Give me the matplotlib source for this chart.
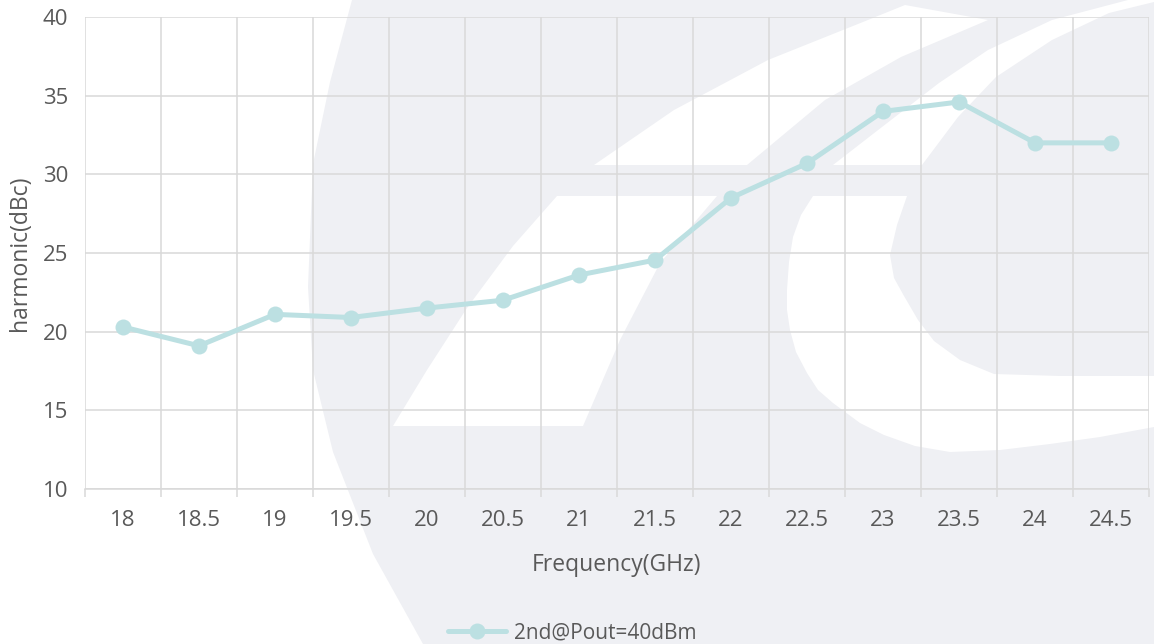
import matplotlib.pyplot as plt
from matplotlib.patches import Polygon

plt.rcParams['font.family'] = ['Open Sans', 'DejaVu Sans']

# data
freq_labels = ['18', '18.5', '19', '19.5', '20', '20.5', '21', '21.5',
               '22', '22.5', '23', '23.5', '24', '24.5']
harmonic = [20.3, 19.1, 21.1, 20.9, 21.5, 22.0, 23.6, 24.55,
            28.5, 30.7, 34.0, 34.6, 32.0, 32.0]
series_name = '2nd@Pout=40dBm'

line_col = '#bce0e2'
grid_col = '#d9d9d9'
text_col = '#595959'
wm_col = '#eff0f4'

fig = plt.figure(figsize=(11.54, 6.44), dpi=100)

# watermark logo in the background (figure pixel coords)
bg = fig.add_axes([0, 0, 1, 1], zorder=0)
bg.set_xlim(0, 1154)
bg.set_ylim(644, 0)
bg.axis('off')

gray_shape = [(352, 0), (330, 82), (313, 164), (308, 287), (313, 370), (333, 452),
              (373, 554), (423, 644), (1154, 644), (1154, 0)]
white_band1 = [(594, 165), (674, 110), (768, 60), (863, 22), (905, 5), (988, 20),
               (901, 57), (825, 100), (747, 165)]
white_band2 = [(833, 165), (882, 127), (939, 83), (988, 50), (1052, 20), (1128, 0),
               (1154, 0), (1154, 2), (1109, 13), (1052, 40), (996, 77), (958, 117), (922, 165)]
white_para = [(557, 196), (717, 196), (660, 263), (620, 340), (583, 426),
              (393, 426), (427, 370), (467, 308), (513, 246)]
white_c = [(813, 196), (907, 196), (897, 225), (890, 255), (894, 278), (904, 296),
           (918, 320), (934, 341), (960, 360), (994, 374), (1060, 376),
           (1154, 376), (1154, 427), (1100, 437), (1050, 444), (1000, 450), (950, 452),
           (915, 446), (884, 435), (860, 423), (833, 403), (818, 390), (807, 373),
           (796, 352), (790, 330), (787, 310), (787, 290), (789, 262), (793, 237), (801, 215)]

bg.add_patch(Polygon(gray_shape, closed=True, facecolor=wm_col, edgecolor='none'))
for shp in (white_band1, white_band2, white_para, white_c):
    bg.add_patch(Polygon(shp, closed=True, facecolor='white', edgecolor='none'))

ax = fig.add_axes([85 / 1154, 155 / 644, 1064 / 1154, 472 / 644], zorder=1)
ax.patch.set_alpha(0)

x = list(range(len(freq_labels)))
ax.plot(x, harmonic, color=line_col, lw=3.6, marker='o', ms=11.5,
        markeredgewidth=0, label=series_name, solid_capstyle='round', zorder=3)

ax.set_xlim(-0.5, len(freq_labels) - 0.5)
ax.set_ylim(10, 40)
ax.set_yticks(range(10, 41, 5))
ax.set_xticks(x)
ax.set_xticklabels(freq_labels)
ax.set_xticks([i - 0.5 for i in range(len(freq_labels) + 1)], minor=True)

ax.grid(axis='y', which='major', color=grid_col, lw=1.1)
ax.grid(axis='x', which='minor', color=grid_col, lw=1.1)
ax.set_axisbelow(True)

for s in ('top', 'right', 'left'):
    ax.spines[s].set_visible(False)
ax.spines['bottom'].set_color(grid_col)
ax.spines['bottom'].set_linewidth(1.1)

ax.tick_params(axis='x', which='major', length=0, pad=15, labelsize=16, labelcolor=text_col)
ax.tick_params(axis='x', which='minor', length=6, width=1.1, color=grid_col)
ax.tick_params(axis='y', length=0, pad=12, labelsize=16, labelcolor=text_col)

ax.set_xlabel('Frequency(GHz)', fontsize=16.5, color=text_col, labelpad=16)
ax.set_ylabel('harmonic(dBc)', fontsize=16.5, color=text_col, labelpad=8)

leg = fig.legend(loc='center', bbox_to_anchor=(0.496, 0.017), frameon=False,
                 fontsize=15, handlelength=2.75, handletextpad=0.4)
for t in leg.get_texts():
    t.set_color(text_col)

fig.savefig('out.png', dpi=100)
